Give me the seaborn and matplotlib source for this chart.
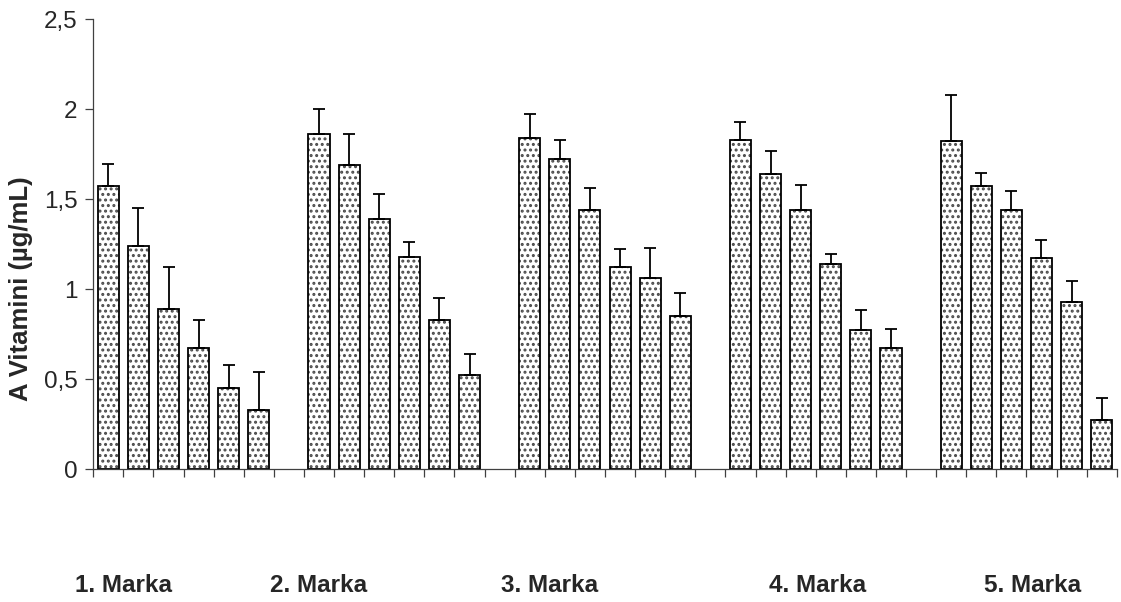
import numpy as np
import pandas as pd
import matplotlib
matplotlib.use('Agg')
import matplotlib.pyplot as plt
import matplotlib.transforms as mtransforms
from matplotlib import font_manager
import seaborn as sns

brands = ['1. Marka', '2. Marka', '3. Marka', '4. Marka', '5. Marka']

means_m1 = [1.57, 1.24, 0.89, 0.67, 0.45, 0.33]
means_m2 = [1.86, 1.69, 1.39, 1.18, 0.83, 0.52]
means_m3 = [1.84, 1.72, 1.44, 1.12, 1.06, 0.85]
means_m4 = [1.83, 1.64, 1.44, 1.14, 0.77, 0.67]
means_m5 = [1.82, 1.57, 1.44, 1.17, 0.93, 0.27]

errs_m1 = [0.125, 0.21, 0.23, 0.16, 0.13, 0.21]
errs_m2 = [0.14, 0.17, 0.14, 0.08, 0.12, 0.12]
errs_m3 = [0.13, 0.11, 0.12, 0.105, 0.17, 0.13]
errs_m4 = [0.10, 0.125, 0.14, 0.057, 0.115, 0.11]
errs_m5 = [0.26, 0.076, 0.105, 0.105, 0.115, 0.124]

y_ticks = [0, 0.5, 1, 1.5, 2, 2.5]
y_tick_labels = ['0', '0,5', '1', '1,5', '2', '2,5']

all_means = [means_m1, means_m2, means_m3, means_m4, means_m5]
all_errs = [errs_m1, errs_m2, errs_m3, errs_m4, errs_m5]

# Build long table; one empty slot between brands (like the Excel original)
rows = []
order = []
for b, (m, e) in enumerate(zip(all_means, all_errs)):
    for i in range(len(m)):
        key = f'{b + 1}-{i + 1}'
        order.append(key)
        rows.append({'slot': key, 'value': m[i], 'err': e[i]})
    if b < len(brands) - 1:
        order.append(f'gap{b + 1}')
df = pd.DataFrame(rows)
df['pos'] = df['slot'].map({k: i for i, k in enumerate(order)})

sns.set_style('white')
plt.rcParams['font.family'] = ['Liberation Sans', 'DejaVu Sans']
plt.rcParams['hatch.linewidth'] = 1.4

fig = plt.figure(figsize=(11.21, 6.02), dpi=100)
ax = fig.add_axes([0.0832, 0.2209, 0.9130, 0.7475])

sns.barplot(data=df, x='slot', y='value', order=order, color='white',
            saturation=1, width=0.7, errorbar=None, edgecolor='black',
            linewidth=1.3, hatch='...', ax=ax)

for p in ax.patches:
    if hasattr(p, 'set_hatchcolor'):
        p.set_hatchcolor('#4a4a4a')
    else:
        p._hatch_color = matplotlib.colors.to_rgba('#4a4a4a')

ax.errorbar(df['pos'], df['value'], yerr=[np.zeros(len(df)), df['err']],
            fmt='none', ecolor='black', elinewidth=1.3, capsize=4.3,
            capthick=1.3, zorder=3)

ax.set_xlim(-0.5, len(order) - 0.5)
ax.set_ylim(0, 2.5)
ax.set_yticks(y_ticks)
ax.set_yticklabels(y_tick_labels)
ax.set_xticks(np.arange(len(order) + 1) - 0.5)
ax.set_xticklabels([])
ax.set_xlabel('')

for side in ['top', 'right']:
    ax.spines[side].set_visible(False)
for side in ['left', 'bottom']:
    ax.spines[side].set_color('#404040')
    ax.spines[side].set_linewidth(0.9)
ax.tick_params(axis='both', direction='out', length=5.5, width=0.9,
               color='#404040', bottom=True, left=True)
ax.tick_params(axis='y', labelsize=17.5, pad=6)

ax.set_ylabel('A Vitamini (µg/mL)', fontsize=18.5, fontweight='bold')
ax.yaxis.set_label_coords(-0.059, 0.40)

# Brand names under the axis; the original uses a narrow bold face
names = {f.name for f in font_manager.fontManager.ttflist}
if 'Liberation Sans Narrow' in names:
    brand_font = dict(family=['Liberation Sans Narrow', 'Liberation Sans'],
                      fontsize=19.5)
else:
    brand_font = dict(fontsize=17.5)

label_x = [0.49, 6.97, 14.67, 23.57, 30.71]
trans = mtransforms.blended_transform_factory(ax.transData, ax.transAxes)
for name, x in zip(brands, label_x):
    ax.text(x, -0.258, name, transform=trans, ha='center', va='center',
            fontweight='bold', **brand_font)

fig.savefig('out.png', dpi=100)
